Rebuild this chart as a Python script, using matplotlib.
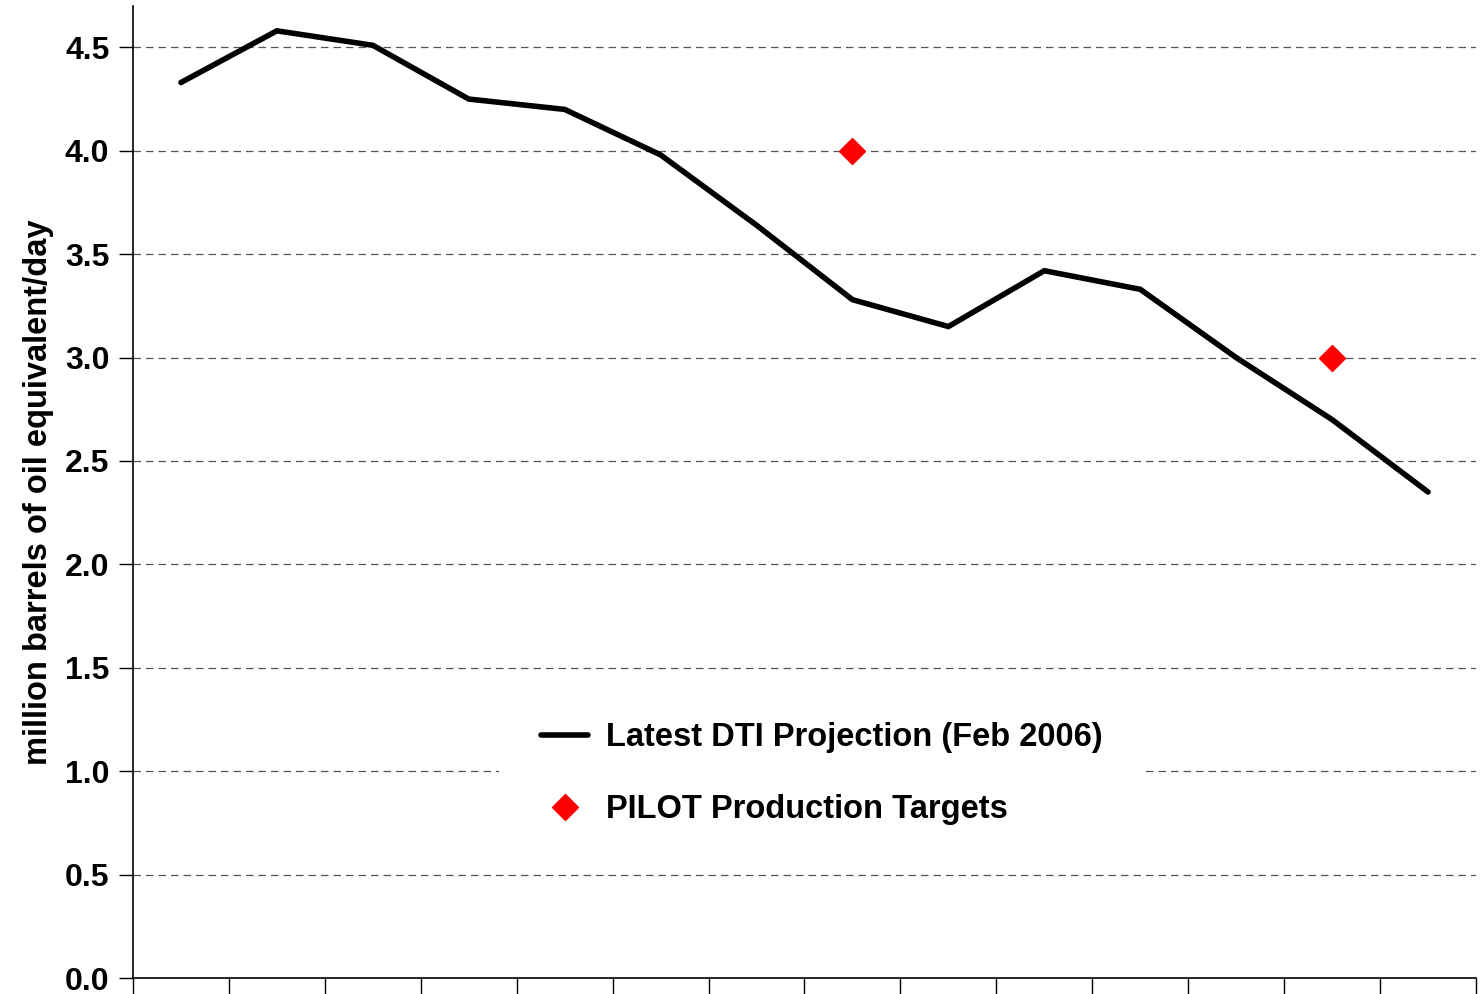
import matplotlib.pyplot as plt
import numpy as np

plt.rcParams["font.family"] = ["Liberation Sans", "DejaVu Sans"]
plt.rcParams["font.weight"] = "bold"

# 14 yearly categories, no labels visible in the chart
projection = [4.33, 4.58, 4.51, 4.25, 4.20, 3.98, 3.64, 3.28, 3.15, 3.42, 3.33, 3.00, 2.70, 2.35]
target_idx = [7, 12]
target_vals = [4.0, 3.0]
yticks = [0.0, 0.5, 1.0, 1.5, 2.0, 2.5, 3.0, 3.5, 4.0, 4.5]

fig = plt.figure(figsize=(14.83, 9.94), dpi=100)
ax = fig.add_axes([133 / 1483, 16 / 994, 1343 / 1483, 972 / 994])

x = np.arange(len(projection)) + 0.5
ax.plot(x, projection, color="black", lw=4, solid_capstyle="round",
        solid_joinstyle="miter", label="Latest DTI Projection (Feb 2006)", zorder=3)
ax.plot(x[target_idx], target_vals, ls="none", marker="D", color="red",
        markersize=13, label="PILOT Production Targets", zorder=4)

ax.set_xlim(0, len(projection))
ax.set_ylim(0, 4.7)
ax.set_yticks(yticks)
ax.set_yticklabels([f"{v:.1f}" for v in yticks])
ax.set_xticks(np.arange(len(projection) + 1))
ax.set_xticklabels([])
ax.tick_params(axis="y", labelsize=23, length=10, width=1, direction="out", pad=7)
ax.tick_params(axis="x", length=16, width=1, direction="out")

for v in yticks[1:]:
    ax.axhline(v, color="#555555", lw=0.9, ls=(0, (6, 4)), zorder=1)

for s in ["top", "right"]:
    ax.spines[s].set_visible(False)
ax.spines["left"].set_linewidth(1.2)
ax.spines["bottom"].set_linewidth(1.2)

ax.set_ylabel("million barrels of oil equivalent/day", fontsize=23.5, fontweight="bold", labelpad=8)

leg = ax.legend(loc="center", bbox_to_anchor=(0.513, 0.21), fontsize=23.5, frameon=True,
                facecolor="white", edgecolor="none", framealpha=1, fancybox=False,
                handlelength=1.45, handletextpad=0.55, labelspacing=1.25, borderpad=1.3,
                borderaxespad=0)
leg.set_zorder(5)

fig.savefig("out.png", dpi=100)
